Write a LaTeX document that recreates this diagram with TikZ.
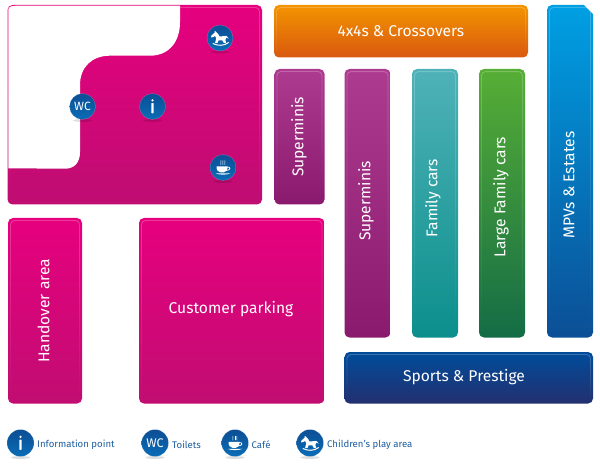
\documentclass[tikz,border=0pt]{standalone}
\usepackage{fontspec}
\setmainfont{Fira Sans}
\usetikzlibrary{fadings}
\definecolor{legendblue}{HTML}{1B5C9E}
\definecolor{badgetop}{HTML}{0C4E95}
\definecolor{badgebot}{HTML}{0A6DB6}
\tikzset{
  x=1pt,y=-1pt,
  panel/.style={rectangle,rounded corners=5pt,inner sep=0pt,draw=none,text=white},
  paneltext/.style={text=white,font=\fontsize{15.6pt}{18pt}\selectfont},
  badge/.style={circle,inner sep=0pt,minimum size=#1,top color=badgetop,bottom color=badgebot,draw=white,draw opacity=.25,line width=.4pt,text=white},
  legendtext/.style={anchor=west,inner sep=0pt,text=legendblue,font=\fontsize{9.6pt}{11pt}\selectfont},
  glyph/.style={fill=white,draw=none},
  badgeshadow/.style={fill=black,opacity=.13,draw=none}
}
\newcommand{\panelbox}[7]{% name x1 y1 x2 y2 top bot
  \definecolor{ptop}{HTML}{#6}\definecolor{pbot}{HTML}{#7}
  \pgfmathsetmacro{\pw}{#4-#2}\pgfmathsetmacro{\ph}{#5-#3}
  \pgfmathsetmacro{\pcx}{(#2+#4)/2}\pgfmathsetmacro{\pcy}{(#3+#5)/2}
  \node[panel,top color=ptop,bottom color=pbot,minimum width=\pw pt,minimum height=\ph pt] (#1) at (\pcx,\pcy) {};
  \draw[white,opacity=.22,line width=.9pt,rounded corners=4pt,path fading=south] (#2+2.5,#3+2.5) rectangle (#4-2.5,#5-2.5);
}
\newcommand{\badgeat}[5]{% name x y size content
  \fill[badgeshadow] (#2,#3+#4/2+1) ellipse ({#4*0.36} and 1.4);
  \node[badge=#4 pt] (#1) at (#2,#3) {#5};
}
\newcommand{\infoglyph}[1]{\fill[glyph,shift={(#1.center)}] (0,-6.2) circle (1.25);
  \fill[glyph,shift={(#1.center)},rounded corners=.5pt] (-1.1,-3.4) -- (1.1,-3.4) -- (1.1,6.8) -- (-1.1,6.8) -- cycle;}
\newcommand{\cupglyph}[1]{\begin{scope}[shift={(#1.center)}]
  \fill[glyph] (-6.5,-1.2) -- (4.6,-1.2) .. controls (4.6,3) and (2.5,4.8) .. (0.8,4.8) -- (-2.6,4.8) .. controls (-5,4.8) and (-6.5,2.5) .. (-6.5,-1.2) -- cycle;
  \draw[white,line width=.8pt] (4.2,-.4) .. controls (8,-1) and (8,2.8) .. (3,3);
  \fill[glyph] (-7.5,5.8) -- (7.5,5.8) .. controls (4,7.6) and (-4,7.6) .. (-7.5,5.8) -- cycle;
  \foreach \q in {-2.2,-.2,1.8}{\draw[white,line width=.45pt] (\q,-2.6) .. controls (\q-.8,-4) and (\q+.8,-5) .. (\q,-7);}
\end{scope}}
\newcommand{\horseglyph}[1]{\begin{scope}[shift={(#1.center)}]
  \fill[glyph] (-9,-2) -- (-5.5,-5.2) -- (-5.2,-7.2) -- (-3.8,-5.8) -- (-1.6,-3.6) -- (-.6,-1.6) -- (3.5,-1.8) .. controls (5.5,-3) and (7,-2.2) .. (8.6,.6) -- (6.3,-.4) -- (5.4,2) -- (6.2,5.2) -- (3.8,5) -- (2.4,2.4) -- (-1.4,2.4) -- (-2.6,5.2) -- (-5,5.2) -- (-3.8,.6) -- (-4.8,-2) -- (-8.4,-.4) -- cycle;
  \draw[white,line width=1pt,line cap=round] (-7,5.6) .. controls (-2,8) and (4,8) .. (8.5,4.6);
\end{scope}}
\begin{document}
\begin{tikzpicture}
\useasboundingbox (0,0) rectangle (600,465);
% main pink area
\panelbox{shop}{7.5}{5}{262}{204.5}{E6007E}{BE0D72}
\fill[white] (8.3,10) .. controls (8.3,7) and (10,5.7) .. (18,5.7) -- (180,5.7) -- (180,22) .. controls (180,43) and (168,55.7) .. (150,55.7) -- (110,55.7) .. controls (92,55.7) and (80,67) .. (80,85) -- (80,152) .. controls (80,163) and (74,168.7) .. (65,168.7) -- (8.3,168.3) -- cycle;
% vehicle panels
\panelbox{fourx}{274}{5}{528}{57.5}{F39400}{D9590F}
\node[paneltext] (fourxt) at (fourx.center) {4x4s \& Crossovers};
\panelbox{supa}{274.5}{69}{324.5}{204.5}{AD3C91}{8A1A6E}
\node[rotate=90,paneltext] (supat) at (299,137) {Superminis};
\panelbox{supb}{344.5}{69}{390.5}{337.5}{AD3C91}{8A1A6E}
\node[rotate=90,paneltext] (supbt) at (366,201) {Superminis};
\panelbox{fam}{412}{69}{458}{337.5}{4FB2B8}{0B8F8C}
\node[rotate=90,paneltext] (famt) at (433,198) {Family cars};
\panelbox{large}{479}{69}{525}{337.5}{57AE35}{146C46}
\node[rotate=90,paneltext] (larget) at (501,197) {Large Family cars};
\panelbox{mpv}{547}{5}{593}{337.5}{009FE3}{0B4F96}
\fill[white] (583,4) -- (594,4) -- (594,15) -- cycle;
\node[rotate=90,paneltext] (mpvt) at (569,185) {MPVs \& Estates};
\panelbox{sports}{344.5}{352}{593}{403.5}{004C9B}{23306F}
\node[paneltext] (sportst) at (464,377.5) {Sports \& Prestige};
\panelbox{hand}{8}{218}{82}{403.5}{E6007E}{C10D72}
\node[rotate=90,paneltext] (handt) at (43.5,311) {Handover area};
\panelbox{cust}{139}{218}{324.5}{403.5}{E6007E}{C10D72}
\node[paneltext] (custt) at (231,309) {Customer parking};
% map badges
\badgeat{mapwc}{82.5}{106.5}{26}{\fontsize{12pt}{12pt}\selectfont WC}
\badgeat{mapi}{152.5}{106.5}{26}{}\infoglyph{mapi}
\badgeat{maphorse}{220}{38}{26}{}\horseglyph{maphorse}
\badgeat{mapcup}{223}{167.5}{26}{}\cupglyph{mapcup}
% legend badges
\badgeat{legi}{20.5}{443}{27}{}\infoglyph{legi}
\node[legendtext] (legit) at (37,444.5) {Information point};
\badgeat{legwc}{155}{443}{27}{\fontsize{12.5pt}{13pt}\selectfont WC}
\node[legendtext] (legwct) at (172,444.5) {Toilets};
\badgeat{legcup}{235}{443}{27}{}\cupglyph{legcup}
\node[legendtext] (legcupt) at (251.5,444.5) {Café};
\badgeat{leghorse}{310}{443}{27}{}\horseglyph{leghorse}
\node[legendtext] (leghorset) at (327,444.5) {Children’s play area};
\end{tikzpicture}
\end{document}
